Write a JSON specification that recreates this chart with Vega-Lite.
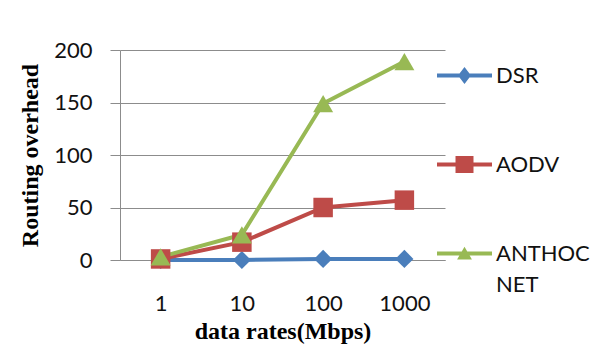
{
  "$schema": "https://vega.github.io/schema/vega-lite/v6.json",
  "autosize": {"type": "none"},
  "padding": {"left": 120, "top": 50, "right": 155, "bottom": 100},
  "width": 325,
  "height": 210,
  "background": "white",
  "config": {
    "view": {"stroke": null},
    "font": "Lato"
  },
  "data": {
    "values": [
      {"rate": "1", "series": "DSR", "overhead": 0},
      {"rate": "10", "series": "DSR", "overhead": 0},
      {"rate": "100", "series": "DSR", "overhead": 1},
      {"rate": "1000", "series": "DSR", "overhead": 1},
      {"rate": "1", "series": "AODV", "overhead": 1},
      {"rate": "10", "series": "AODV", "overhead": 17},
      {"rate": "100", "series": "AODV", "overhead": 50},
      {"rate": "1000", "series": "AODV", "overhead": 57},
      {"rate": "1", "series": "ANTHOCNET", "overhead": 3},
      {"rate": "10", "series": "ANTHOCNET", "overhead": 24},
      {"rate": "100", "series": "ANTHOCNET", "overhead": 149},
      {"rate": "1000", "series": "ANTHOCNET", "overhead": 189}
    ]
  },
  "encoding": {
    "x": {
      "field": "rate",
      "type": "ordinal",
      "sort": ["1", "10", "100", "1000"],
      "scale": {"type": "point", "padding": 0.5},
      "axis": {
        "title": "data rates(Mbps)",
        "titleFont": "Liberation Serif",
        "titleFontWeight": "bold",
        "titleFontSize": 24,
        "titleColor": "#000",
        "titlePadding": 5,
        "labelAngle": 0,
        "labelFont": "Lato",
        "labelFontSize": 22,
        "labelColor": "#111",
        "labelPadding": 33,
        "ticks": false,
        "tickSize": 0,
        "domainColor": "#8c8c8c",
        "domainWidth": 1,
        "grid": false
      }
    },
    "y": {
      "field": "overhead",
      "type": "quantitative",
      "scale": {"domain": [0, 200], "nice": false},
      "axis": {
        "title": "Routing overhead",
        "titleFont": "Liberation Serif",
        "titleFontWeight": "bold",
        "titleFontSize": 24,
        "titleColor": "#000",
        "titlePadding": 11,
        "values": [0, 50, 100, 150, 200],
        "labelFont": "Lato",
        "labelFontSize": 22,
        "labelColor": "#111",
        "labelPadding": 18,
        "tickSize": 10,
        "tickColor": "#8c8c8c",
        "domainColor": "#8c8c8c",
        "gridColor": "#8c8c8c",
        "gridOpacity": 1,
        "grid": true
      }
    },
    "color": {
      "field": "series",
      "type": "nominal",
      "sort": ["DSR", "AODV", "ANTHOCNET"],
      "scale": {
        "domain": ["DSR", "AODV", "ANTHOCNET"],
        "range": ["#4a7ebb", "#be4b48", "#98b954"]
      },
      "legend": {
        "orient": "none",
        "legendX": 317,
        "legendY": -2,
        "title": null,
        "padding": 0,
        "symbolSize": 3025,
        "rowPadding": 50,
        "labelOffset": 4,
        "labelFont": "Lato",
        "labelFontSize": 22,
        "labelColor": "#111",
        "labelBaseline": "top",
        "labelExpr": "datum.label == 'ANTHOCNET' ? ['ANTHOC', 'NET'] : datum.label",
        "encode": {
          "labels": {
            "update": {
              "dy": {"value": -10},
              "lineHeight": {"value": 31}
            }
          },
          "symbols": {
            "update": {
              "shape": {"signal": "datum.value == 'DSR' ? 'M-1,-0.073H1V0.073H-1Z M-0.236,0L0,-0.31L0.236,0L0,0.31Z' : datum.value == 'AODV' ? 'M-1,-0.073H1V0.073H-1Z M-0.327,-0.31H0.327V0.31H-0.327Z' : 'M-1,-0.073H1V0.073H-1Z M0,-0.25L0.27,0.22L-0.27,0.22Z'"},
              "fill": {"scale": "color", "field": "value"},
              "stroke": {"value": "transparent"},
              "strokeWidth": {"value": 0},
              "opacity": {"value": 1}
            }
          }
        }
      }
    }
  },
  "layer": [
    {
      "mark": {"type": "line", "strokeWidth": 4}
    },
    {
      "transform": [{"filter": "datum.series == 'DSR'"}],
      "mark": {"type": "point", "shape": "diamond", "filled": true, "opacity": 1, "size": 330}
    },
    {
      "transform": [{"filter": "datum.series == 'AODV'"}],
      "mark": {"type": "point", "shape": "square", "filled": true, "opacity": 1, "size": 380}
    },
    {
      "transform": [{"filter": "datum.series == 'ANTHOCNET'"}],
      "mark": {"type": "point", "shape": "triangle-up", "filled": true, "opacity": 1, "size": 400}
    }
  ]
}
